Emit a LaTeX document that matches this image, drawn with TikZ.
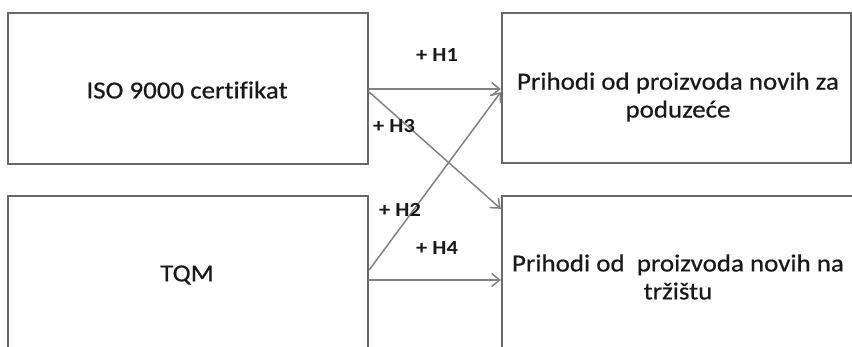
\documentclass[tikz,border=0pt]{standalone}
\usepackage{fontspec}
\setmainfont{Carlito}
\newfontfamily\boxfont{Carlito}[FakeStretch=1.1,FakeBold=0.6,Ligatures=NoCommon]
\newfontfamily\hypfont{Carlito Bold}[FakeStretch=1.12]
\usetikzlibrary{arrows.meta,calc}
\definecolor{boxgray}{RGB}{105,105,105}
\definecolor{arrgray}{RGB}{130,130,130}
\definecolor{txt}{RGB}{25,25,25}
\begin{document}
\begin{tikzpicture}[x=1pt,y=-1pt,
  boxnode/.style={draw=boxgray,line width=2.3pt,rectangle,inner sep=0pt,fill=white},
  boxtext/.style={text=txt,font=\boxfont\fontsize{24.5}{28}\selectfont,align=center,inner sep=0pt},
  hyp/.style={text=txt,font=\hypfont\fontsize{20}{22}\selectfont,inner sep=0pt},
  link/.style={draw=arrgray,line width=1.5pt,-{Straight Barb[length=8pt,width=13pt,line width=1.5pt]}}]
\clip (0,0) rectangle (852,346);
\fill[white] (0,0) rectangle (852,346);
% boxes
\node[boxnode,minimum width=360pt,minimum height=151pt] (iso) at (188,88.5) {};
\node[boxnode,minimum width=349pt,minimum height=150pt] (pp) at (676.5,88) {};
\node[boxnode,minimum width=360pt,minimum height=164pt] (tqm) at (188,278) {};
\node[boxnode,minimum width=360pt,minimum height=164pt] (pt) at (682,278) {};
% texts
\node[boxtext] (tiso) at (187,90) {ISO 9000 certifikat};
\node[boxtext] (tpp) at (678,97) {Prihodi od proizvoda novih za\\poduzeće};
\node[boxtext] (ttqm) at (187,275) {TQM};
\node[boxtext] (tpt) at (678,277) {Prihodi od \ proizvoda novih na\\tržištu};
% connectors
\draw[link] ($(iso.east)+(0,0.5)$) -- ($(pp.west)+(0,1)$);
\draw[link] ($(iso.east)+(0,3.5)$) -- ($(pt.north west)+(0,14)$);
\draw[link] ($(tqm.east)+(0,-8)$) -- ($(pp.west)+(0,4)$);
\draw[link] ($(tqm.east)+(0,2)$) -- ($(pt.west)+(0,2)$);
% labels
\node[hyp] (h1) at (437,55) {+ H1};
\node[hyp] (h3) at (394,126) {+ H3};
\node[hyp] (h2) at (400,210) {+ H2};
\node[hyp] (h4) at (437,248) {+ H4};
\end{tikzpicture}
\end{document}
